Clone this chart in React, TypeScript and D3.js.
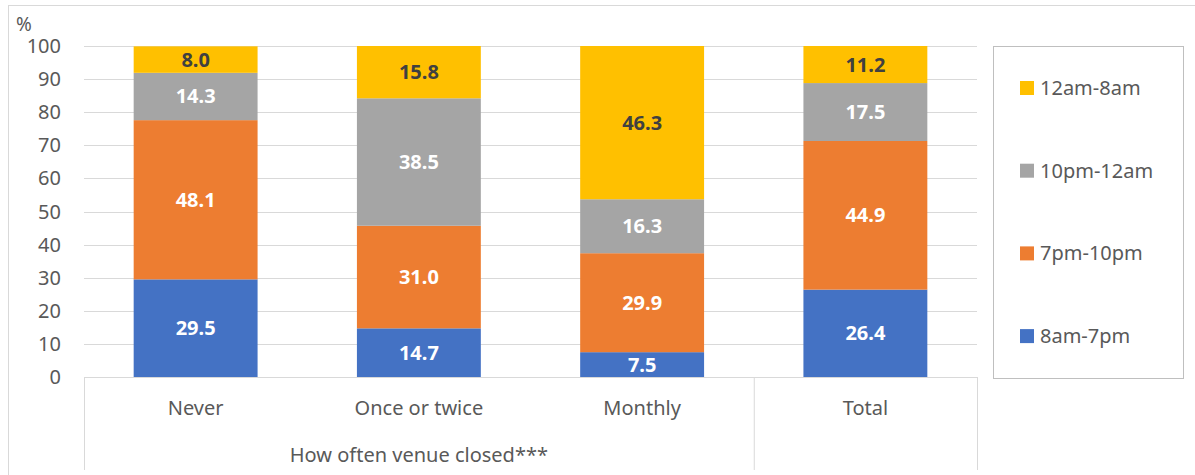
import React from "react";
import * as d3 from "d3";

const categories = ["Never", "Once or twice", "Monthly", "Total"];
const seriesNames = ["8am-7pm", "7pm-10pm", "10pm-12am", "12am-8am"];
const s8am7pm = [29.5, 14.7, 7.5, 26.4];
const s7pm10pm = [48.1, 31.0, 29.9, 44.9];
const s10pm12am = [14.3, 38.5, 16.3, 17.5];
const s12am8am = [8.0, 15.8, 46.3, 11.2];
const yTicks = [0, 10, 20, 30, 40, 50, 60, 70, 80, 90, 100];
const groupLabel = "How often venue closed***";
const colors = ["#4472C4", "#ED7D31", "#A5A5A5", "#FFC000"];
const labelColors = ["#FFFFFF", "#FFFFFF", "#FFFFFF", "#404040"];

const FONT = "'Noto Sans', sans-serif";

export default function App() {
  const W = 1195, H = 475;
  const x = d3.scaleBand<string>().domain(categories).range([84, 977]).paddingInner(0.445).paddingOuter(0.2225);
  const y = d3.scaleLinear().domain([0, 100]).range([377, 46]);
  const values = [s8am7pm, s7pm10pm, s10pm12am, s12am8am];
  const table = categories.map((c, i) => {
    const o: any = { cat: c };
    seriesNames.forEach((s, j) => (o[s] = values[j][i]));
    return o;
  });
  const stack = d3.stack<any>().keys(seriesNames)(table);
  const step = x.step();
  const catStart = (i: number) => 84 + i * step;
  const legendOrder = [3, 2, 1, 0];

  return (
    <svg width={W} height={H} style={{ position: "absolute", left: 0, top: 0 }} fontFamily={FONT}>
      <rect x={0} y={0} width={W} height={H} fill="#fff" />
      <rect x={8.5} y={5.5} width={1200} height={500} fill="none" stroke="#D9D9D9" strokeWidth={1} />
      {yTicks.map((t) => (
        <g key={t}>
          {t > 0 && <line x1={84} x2={977} y1={Math.round(y(t)) + 0.5} y2={Math.round(y(t)) + 0.5} stroke="#D9D9D9" strokeWidth={1} />}
          <text x={61} y={y(t)} dy="0.35em" textAnchor="end" fontSize={20} fill="#595959">{t}</text>
        </g>
      ))}
      <text x={16} y={24} dy="0.35em" fontSize={19} fill="#595959">%</text>
      {stack.map((layer, j) => (
        <g key={layer.key}>
          {layer.map((d, i) => {
            const x0 = x(categories[i])!;
            const y0 = y(d[1]);
            const h = y(d[0]) - y(d[1]);
            return (
              <g key={i}>
                <rect x={x0} y={y0} width={x.bandwidth()} height={h} fill={colors[j]} />
                <text x={x0 + x.bandwidth() / 2} y={y0 + h / 2} dy="0.35em" textAnchor="middle" fontSize={20} fontWeight="bold" fill={labelColors[j]}>
                  {values[j][i].toFixed(1)}
                </text>
              </g>
            );
          })}
        </g>
      ))}
      <line x1={84} x2={977} y1={377.5} y2={377.5} stroke="#D9D9D9" strokeWidth={1} />
      {[0, 3, 4].map((i) => (
        <line key={i} x1={catStart(i) + 0.5} x2={catStart(i) + 0.5} y1={377} y2={470} stroke="#D9D9D9" strokeWidth={1} />
      ))}
      {categories.map((c) => (
        <text key={c} x={x(c)! + x.bandwidth() / 2} y={408} dy="0.35em" textAnchor="middle" fontSize={20} fill="#595959">{c}</text>
      ))}
      <text x={(catStart(0) + catStart(3)) / 2} y={455} dy="0.35em" textAnchor="middle" fontSize={20} fill="#595959">{groupLabel}</text>
      <rect x={993.5} y={46.5} width={190} height={332} fill="none" stroke="#BFBFBF" strokeWidth={1} />
      {legendOrder.map((j, k) => {
        const cy = 88 + k * 82.7;
        return (
          <g key={j}>
            <rect x={1020} y={cy - 7} width={14} height={14} fill={colors[j]} />
            <text x={1040} y={cy} dy="0.35em" fontSize={20} fill="#595959">{seriesNames[j]}</text>
          </g>
        );
      })}
    </svg>
  );
}
